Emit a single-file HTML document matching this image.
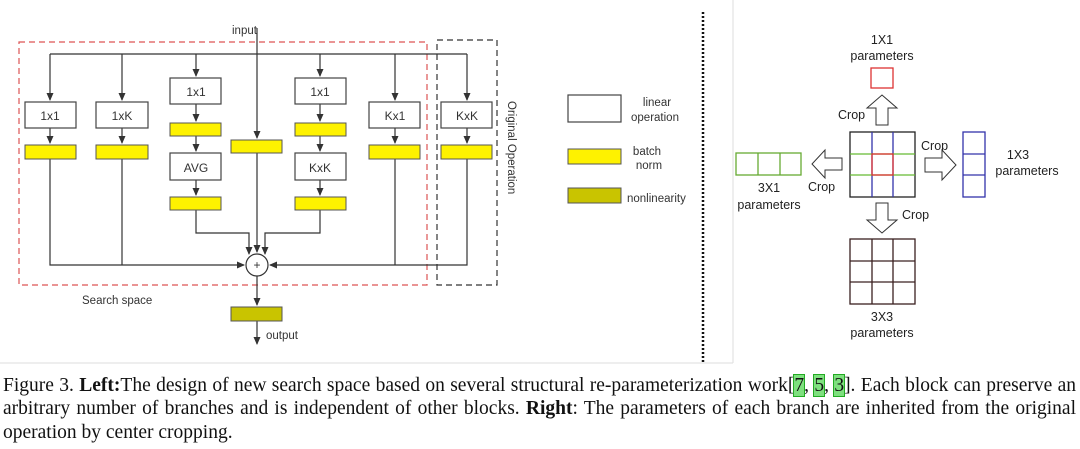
<!DOCTYPE html>
<html><head><meta charset="utf-8"><style>
html,body{margin:0;padding:0;background:#fff;width:1080px;height:449px;overflow:hidden;position:relative}
svg{position:absolute;left:0;top:0}
.cap{position:absolute;left:3px;width:1073px;font-family:"Liberation Serif",serif;font-size:19.5px;color:#111;line-height:23px;white-space:nowrap}
.j{text-align:justify;text-align-last:justify;white-space:normal}
.ref{background:#7ee07e;outline:1px solid #2a2}
</style></head><body>
<svg width="1080" height="449" viewBox="0 0 1080 449" font-family="Liberation Sans, sans-serif" font-size="11.5" fill="#333">
<defs><marker id="a" markerWidth="8" markerHeight="8" refX="7" refY="4" orient="auto" markerUnits="userSpaceOnUse"><path d="M0,0.5 L8,4 L0,7.5z" fill="#333"/></marker></defs>
<line x1="733" y1="0" x2="733" y2="363" stroke="#ddd"/>
<line x1="0" y1="363" x2="733" y2="363" stroke="#ddd"/>
<line x1="703" y1="12" x2="703" y2="362" stroke="#111" stroke-width="2.5" stroke-dasharray="2,2"/>
<rect x="19" y="42" width="408" height="243" fill="none" stroke="#d55" stroke-width="1.2" stroke-dasharray="6,4"/>
<rect x="437" y="40" width="60" height="245" fill="none" stroke="#333" stroke-width="1.2" stroke-dasharray="6,4"/>
<g stroke="#333" stroke-width="1.2" fill="none">
<line x1="50" y1="54" x2="467" y2="54"/>
<line x1="257" y1="28" x2="257" y2="138" marker-end="url(#a)"/>
<line x1="257" y1="153" x2="257" y2="252" marker-end="url(#a)"/>
<line x1="50" y1="54" x2="50" y2="100" marker-end="url(#a)"/>
<line x1="122" y1="54" x2="122" y2="100" marker-end="url(#a)"/>
<line x1="395" y1="54" x2="395" y2="100" marker-end="url(#a)"/>
<line x1="467" y1="54" x2="467" y2="100" marker-end="url(#a)"/>
<line x1="196" y1="54" x2="196" y2="76" marker-end="url(#a)"/>
<line x1="320" y1="54" x2="320" y2="76" marker-end="url(#a)"/>
<line x1="50" y1="128" x2="50" y2="143" marker-end="url(#a)"/>
<line x1="122" y1="128" x2="122" y2="143" marker-end="url(#a)"/>
<line x1="395" y1="128" x2="395" y2="143" marker-end="url(#a)"/>
<line x1="467" y1="128" x2="467" y2="143" marker-end="url(#a)"/>
<line x1="196" y1="104" x2="196" y2="121" marker-end="url(#a)"/>
<line x1="320" y1="104" x2="320" y2="121" marker-end="url(#a)"/>
<line x1="196" y1="136" x2="196" y2="151" marker-end="url(#a)"/>
<line x1="320" y1="136" x2="320" y2="151" marker-end="url(#a)"/>
<line x1="196" y1="180" x2="196" y2="195" marker-end="url(#a)"/>
<line x1="320" y1="180" x2="320" y2="195" marker-end="url(#a)"/>
<polyline points="196,210 196,233 249,233 249,254" marker-end="url(#a)"/>
<polyline points="320,210 320,233 265,233 265,254" marker-end="url(#a)"/>
<polyline points="50,159 50,265 244,265" marker-end="url(#a)"/>
<line x1="122" y1="159" x2="122" y2="265"/>
<polyline points="467,159 467,265 270,265" marker-end="url(#a)"/>
<line x1="395" y1="159" x2="395" y2="265"/>
<line x1="257" y1="276" x2="257" y2="305" marker-end="url(#a)"/>
<line x1="257" y1="321" x2="257" y2="344" marker-end="url(#a)"/>
</g>
<circle cx="257" cy="265" r="11" fill="#fff" stroke="#333" stroke-width="1.2"/>
<text x="257" y="269" text-anchor="middle" font-size="12">+</text>
<g stroke="#444" stroke-width="1.2" fill="#fff">
<rect x="25" y="102" width="51" height="26"/><rect x="96" y="102" width="52" height="26"/>
<rect x="170" y="78" width="51" height="26"/><rect x="295" y="78" width="51" height="26"/>
<rect x="170" y="153" width="51" height="27"/><rect x="295" y="153" width="51" height="27"/>
<rect x="369" y="102" width="51" height="26"/><rect x="441" y="102" width="51" height="26"/>
<rect x="568" y="95" width="53" height="27"/>
</g>
<g stroke="#555" stroke-width="1" fill="#fef200">
<rect x="25" y="145" width="51" height="14"/><rect x="96" y="145" width="52" height="14"/>
<rect x="170" y="123" width="51" height="13"/><rect x="295" y="123" width="51" height="13"/>
<rect x="231" y="140" width="51" height="13"/>
<rect x="170" y="197" width="51" height="13"/><rect x="295" y="197" width="51" height="13"/>
<rect x="369" y="145" width="51" height="14"/><rect x="441" y="145" width="51" height="14"/>
<rect x="568" y="149" width="53" height="15"/>
</g>
<g stroke="#555" fill="#c9c400"><rect x="231" y="307" width="51" height="14"/><rect x="568" y="188" width="53" height="15"/></g>
<g text-anchor="middle" font-size="12">
<text x="50" y="120">1x1</text><text x="122" y="120">1xK</text>
<text x="196" y="96">1x1</text><text x="320" y="96">1x1</text>
<text x="196" y="172">AVG</text><text x="320" y="172">KxK</text>
<text x="395" y="120">Kx1</text><text x="467" y="120">KxK</text>
</g>
<text x="232" y="34">input</text>
<text x="266" y="339">output</text>
<text x="82" y="304">Search space</text>
<text transform="translate(508,101) rotate(90)">Original Operation</text>
<g text-anchor="middle"><text x="657" y="106">linear</text><text x="655" y="121">operation</text>
<text x="647" y="155">batch</text><text x="649" y="169">norm</text></g>
<text x="627" y="202">nonlinearity</text>
<g font-size="12.5" fill="#222">
<g text-anchor="middle"><text x="882" y="44">1X1</text><text x="882" y="60">parameters</text>
<text x="769" y="192">3X1</text><text x="769" y="209">parameters</text>
<text x="1018" y="159">1X3</text><text x="1027" y="175">parameters</text>
<text x="882" y="321">3X3</text><text x="882" y="337">parameters</text></g>
<text x="838" y="119">Crop</text><text x="808" y="191">Crop</text><text x="921" y="150">Crop</text><text x="902" y="219">Crop</text>
</g>
<g fill="#fff" stroke="#333" stroke-width="1">
<path d="M876,125 V108 H867 L882,95 L897,108 H888 V125z"/>
<path d="M876,203 V220 H867 L882,233 L897,220 H888 V203z"/>
<path d="M842,158 H825 V150 L812,164 L825,178 V170 H842z"/>
<path d="M925,158 H942 V150 L956,165 L942,180 V172 H925z"/>
</g>
<g fill="none" stroke-width="1.3">
<rect x="871" y="68" width="22" height="20" stroke="#d33"/>
<g stroke="#6a3"><rect x="736" y="153" width="65" height="22"/><line x1="758" y1="153" x2="758" y2="175"/><line x1="780" y1="153" x2="780" y2="175"/></g>
<g stroke="#33a"><rect x="963" y="132" width="22" height="65"/><line x1="963" y1="154" x2="985" y2="154"/><line x1="963" y1="175" x2="985" y2="175"/></g>
<rect x="850" y="132" width="65" height="65" stroke="#222"/>
<g stroke="#33a"><line x1="872" y1="132" x2="872" y2="197"/><line x1="893" y1="132" x2="893" y2="197"/></g>
<g stroke="#6b3"><line x1="850" y1="154" x2="915" y2="154"/><line x1="850" y1="175" x2="915" y2="175"/></g>
<rect x="872" y="154" width="21" height="21" stroke="#d33"/>
<g stroke="#3a2020"><rect x="850" y="239" width="65" height="65"/><line x1="872" y1="239" x2="872" y2="304"/><line x1="893" y1="239" x2="893" y2="304"/><line x1="850" y1="261" x2="915" y2="261"/><line x1="850" y1="282" x2="915" y2="282"/></g>
</g>
</svg>
<div class="cap j" style="top:374px">Figure 3. <b>Left:</b>The design of new search space based on several structural re-parameterization work[<span class="ref">7</span>, <span class="ref">5</span>, <span class="ref">3</span>]. Each block can preserve an</div>
<div class="cap j" style="top:397px">arbitrary number of branches and is independent of other blocks. <b>Right</b>: The parameters of each branch are inherited from the original</div>
<div class="cap" style="top:421px">operation by center cropping.</div>
</body></html>
